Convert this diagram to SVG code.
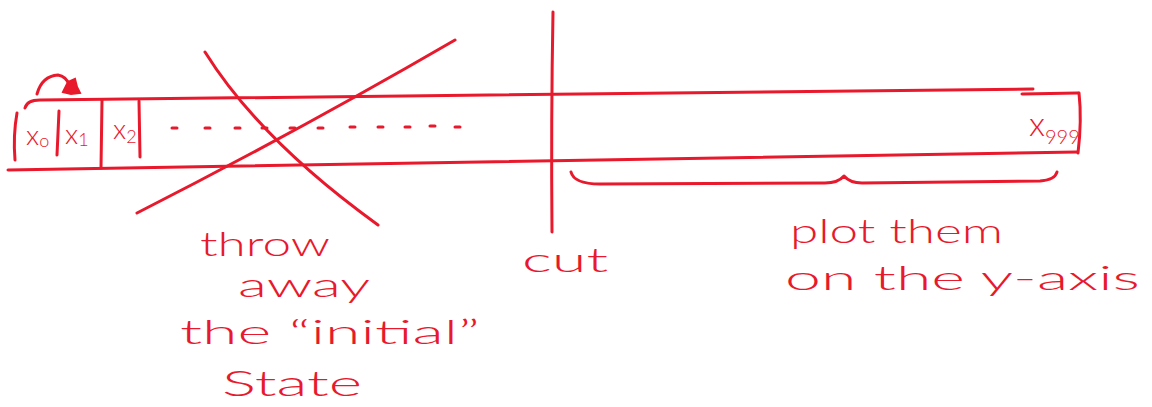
<svg xmlns="http://www.w3.org/2000/svg" width="1152" height="407" viewBox="0 0 1152 407">
<style>
.s{fill:none;stroke:#e8192c;stroke-width:3;stroke-linecap:round;stroke-linejoin:round}
.t{fill:#e8192c;font-family:Lato,"Open Sans","Liberation Sans",Arial,sans-serif;font-weight:300}
</style>
<rect width="1152" height="407" fill="#ffffff"/>
<!-- strip -->
<path class="s" d="M25,108 Q27,100 40,100 L1033,89"/>
<path class="s" d="M1022,94 L1078,93"/>
<path class="s" d="M1079,93 Q1082,120 1078,153"/>
<path class="s" d="M8,170 L1077,152"/>
<path class="s" d="M17,113 Q13,135 15,160"/>
<path class="s" d="M59,111 L57,155"/>
<path class="s" d="M102,100 L101,168"/>
<path class="s" d="M139,101 L140,157"/>
<!-- arrow -->
<path class="s" d="M37,94 Q42,76 58,75 Q66,76 70,86"/>
<path d="M63,92 L68,82 L75,79 L77,87 L80,93 L71,94 Z" fill="#e8192c" stroke="#e8192c" stroke-width="2"/>
<!-- labels in cells -->
<text class="t" x="26" y="145" font-size="28">x<tspan font-size="18" dy="2">o</tspan></text>
<text class="t" x="65" y="144" font-size="28">x<tspan font-size="18" dy="2">1</tspan></text>
<text class="t" x="113" y="139" font-size="28">x<tspan font-size="18" dy="4">2</tspan></text>
<!-- dashes -->
<path class="s" d="M172,128 L177,128 M205,128 L210,128 M235,128 L240,128 M262,128 L267,128 M290,128 L295,128 M318,128 L323,128 M350,127 L355,127 M378,127 L383,127 M405,127 L410,127 M430,126 L435,126 M455,127 L460,127"/>
<text class="t" x="1029" y="136" font-size="34">x<tspan font-size="20" dy="8">999</tspan></text>
<!-- cross -->
<path class="s" d="M205,52 Q260,140 378,225"/>
<path class="s" d="M455,40 Q300,130 137,213"/>
<!-- cut -->
<path class="s" d="M553,12 Q551,120 552,232"/>
<!-- brace -->
<path class="s" d="M571,172 Q574,184 600,184 L825,183 Q838,183 844,176 Q850,183 862,183 L1040,181 Q1055,180 1057,172"/>
<!-- texts -->
<text class="t" x="200" y="256" font-size="34" textLength="130" lengthAdjust="spacingAndGlyphs">throw</text>
<text class="t" x="238" y="297" font-size="34" textLength="132" lengthAdjust="spacingAndGlyphs">away</text>
<text class="t" x="180" y="344" font-size="34" textLength="300" lengthAdjust="spacingAndGlyphs">the “initial”</text>
<text class="t" x="222" y="396" font-size="36" textLength="140" lengthAdjust="spacingAndGlyphs">State</text>
<text class="t" x="522" y="272" font-size="34" textLength="86" lengthAdjust="spacingAndGlyphs">cut</text>
<text class="t" x="790" y="243" font-size="34" textLength="213" lengthAdjust="spacingAndGlyphs">plot them</text>
<text class="t" x="785" y="290" font-size="34" textLength="355" lengthAdjust="spacingAndGlyphs">on the y-axis</text>
</svg>
